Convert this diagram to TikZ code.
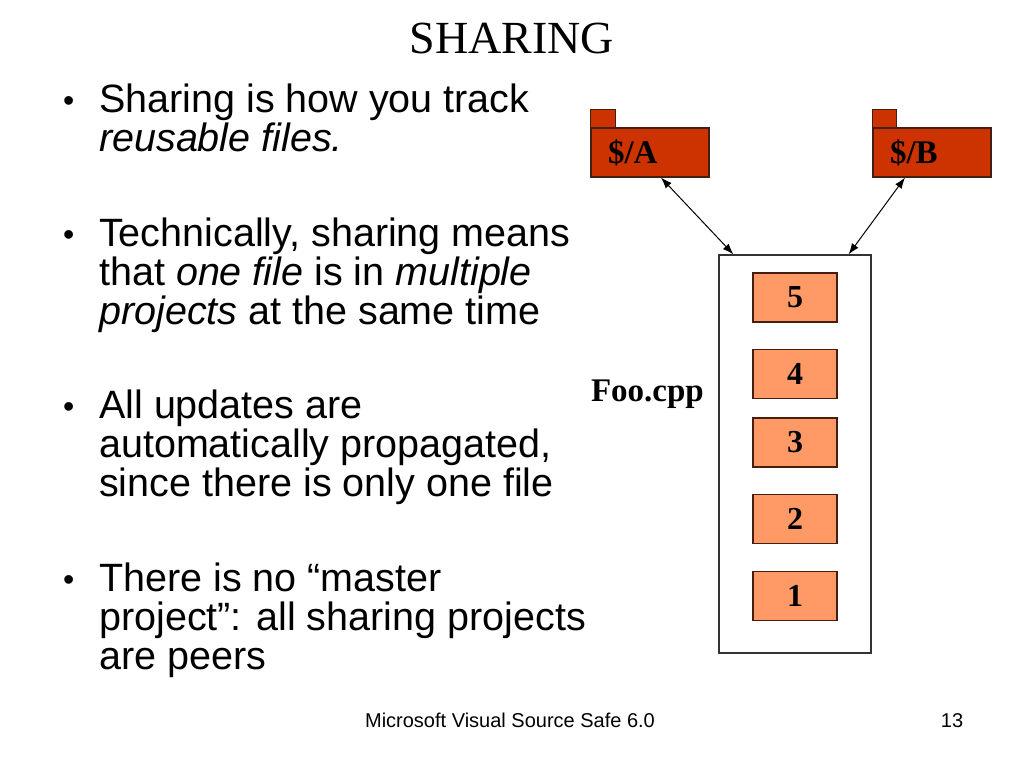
\documentclass[tikz,border=0pt]{standalone}
\usepackage{fontspec}
\setmainfont{Liberation Serif}
\setsansfont{Liberation Sans}
\usetikzlibrary{positioning,arrows.meta}
\definecolor{folderred}{RGB}{204,51,0}
\definecolor{versionorange}{RGB}{255,153,102}
\definecolor{edgebrown}{RGB}{70,30,15}
\newcommand{\para}[1]{\parbox[t]{520pt}{\raggedright #1}}
\tikzset{
  folder/.style={draw=edgebrown,fill=folderred,line width=1.2pt},
  version/.style={draw=edgebrown,fill=versionorange,line width=1.2pt,minimum width=84pt,minimum height=49pt,font=\fontsize{32}{32}\selectfont\bfseries},
  bullettext/.style={anchor=base west,inner sep=0pt,font=\sffamily\fontsize{39.5}{39}\selectfont},
  dot/.style={anchor=base west,inner sep=0pt,font=\sffamily\fontsize{32}{32}\selectfont},
  link/.style={{Latex[length=11pt,width=8pt]}-{Latex[length=11pt,width=8pt]},line width=1pt}
}
\begin{document}
\begin{tikzpicture}[x=1pt,y=-1pt]
\useasboundingbox[fill=white] (0,0) rectangle (1024,768);
\node[anchor=base,font=\fontsize{46}{46}\selectfont] (title) at (512,53) {SHARING};
% bullets
\node[dot] (b1) at (63,111) {\textbullet};
\node[bullettext] (p1) at (99,112) {\para{Sharing is how you track\\\textit{reusable files.}}};
\node[dot] (b2) at (63,245) {\textbullet};
\node[bullettext] (p2) at (99,246) {\para{Technically, sharing means\\that \textit{one file} is in \textit{multiple}\\\textit{projects} at the same time}};
\node[dot] (b3) at (63,417) {\textbullet};
\node[bullettext] (p3) at (99,418) {\para{All updates are\\automatically propagated,\\since there is only one file}};
\node[dot] (b4) at (63,590) {\textbullet};
\node[bullettext] (p4) at (99,591) {\para{There is no ``master\\project'': all sharing projects\\are peers}};
% projects
\node[folder,minimum width=118pt,minimum height=49pt,text width=84pt,align=left,font=\fontsize{33}{33}\selectfont\bfseries] (fa) at (650,152.5) {\$/A};
\draw[folder] (fa.north west) rectangle ++(25,-18);
\node[folder,minimum width=118pt,minimum height=49pt,text width=84pt,align=left,font=\fontsize{33}{33}\selectfont\bfseries] (fb) at (932,152.5) {\$/B};
\draw[folder] (fb.north west) rectangle ++(24,-18);
% shared file
\node[draw=black!80,line width=1.2pt,minimum width=152pt,minimum height=398pt] (foo) at (795,454) {};
\node[anchor=base east,inner sep=0pt,font=\fontsize{33}{33}\selectfont\bfseries] (fname) at (704,401) {Foo.cpp};
\foreach \v/\y in {5/297.5,4/374,3/442.5,2/519,1/596}
  \node[version] (v\v) at (795,\y) {\v};
\draw[link] ([xshift=11pt]fa.south) -- ([xshift=15pt]foo.north west);
\draw[link] ([xshift=-27pt]fb.south) -- ([xshift=-23pt]foo.north east);
% footer
\node[anchor=base,font=\sffamily\fontsize{20}{20}\selectfont] (foot) at (510,727) {Microsoft Visual Source Safe 6.0};
\node[anchor=base,font=\sffamily\fontsize{20}{20}\selectfont] (page) at (952,727) {13};
\end{tikzpicture}
\end{document}
